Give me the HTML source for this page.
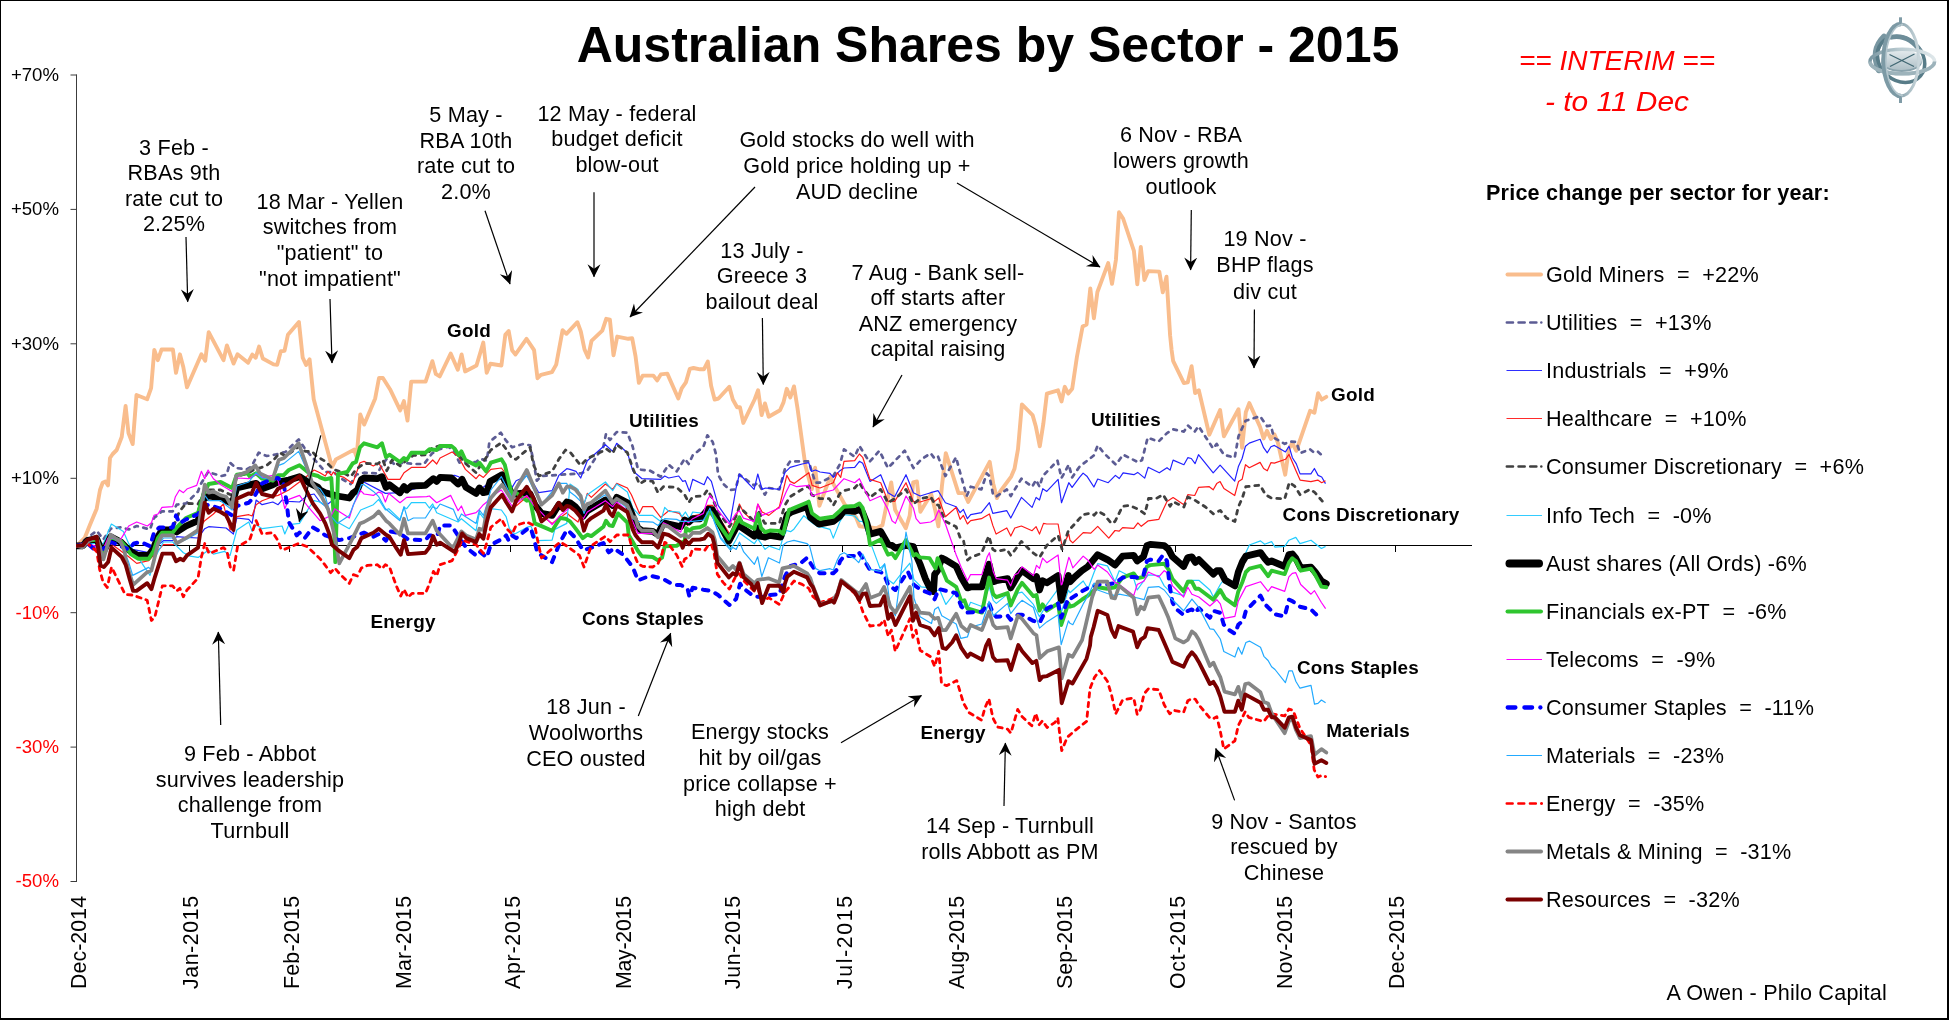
<!DOCTYPE html>
<html><head><meta charset="utf-8"><title>Australian Shares by Sector - 2015</title>
<style>html,body{margin:0;padding:0;background:#fff;}body{width:1949px;height:1020px;overflow:hidden;font-family:'Liberation Sans', sans-serif;}svg{display:block;}text{font-family:'Liberation Sans', sans-serif;}</style></head><body>
<svg width="1949" height="1020" viewBox="0 0 1949 1020">
<defs><clipPath id="cp"><rect x="76" y="150" width="1400" height="700"/></clipPath><marker id="ah" markerWidth="16" markerHeight="16" refX="12.5" refY="6.5" orient="auto" markerUnits="userSpaceOnUse"><path d="M0,0 L13,6.5 L0,13 L4.5,6.5 Z" fill="#000"/></marker></defs>
<rect x="0" y="0" width="1949" height="1020" fill="#fff"/>
<g stroke="#3c3c3c" stroke-width="1" fill="none">
<line x1="76.5" y1="74.6" x2="76.5" y2="882"/>
<line x1="70.5" y1="75.0" x2="77" y2="75.0"/>
<line x1="70.5" y1="209.4" x2="77" y2="209.4"/>
<line x1="70.5" y1="343.8" x2="77" y2="343.8"/>
<line x1="70.5" y1="478.3" x2="77" y2="478.3"/>
<line x1="70.5" y1="612.7" x2="77" y2="612.7"/>
<line x1="70.5" y1="747.1" x2="77" y2="747.1"/>
<line x1="70.5" y1="881.5" x2="77" y2="881.5"/>
</g>
<g stroke="#000" stroke-width="1" fill="none" shape-rendering="crispEdges">
<line x1="76" y1="545.5" x2="1472" y2="545.5"/>
<line x1="189.5" y1="545" x2="189.5" y2="552"/>
<line x1="289.5" y1="545" x2="289.5" y2="552"/>
<line x1="401.5" y1="545" x2="401.5" y2="552"/>
<line x1="510.5" y1="545" x2="510.5" y2="552"/>
<line x1="622.5" y1="545" x2="622.5" y2="552"/>
<line x1="730.5" y1="545" x2="730.5" y2="552"/>
<line x1="842.5" y1="545" x2="842.5" y2="552"/>
<line x1="954.5" y1="545" x2="954.5" y2="552"/>
<line x1="1062.5" y1="545" x2="1062.5" y2="552"/>
<line x1="1175.5" y1="545" x2="1175.5" y2="552"/>
<line x1="1283.5" y1="545" x2="1283.5" y2="552"/>
<line x1="1395.5" y1="545" x2="1395.5" y2="552"/>
</g>
<g fill="none" stroke-linejoin="round" stroke-linecap="butt" clip-path="url(#cp)">
<polyline stroke="#F9BD8D" stroke-width="3.9" stroke-linecap="round" points="76.7,545.8 84.7,538.0 90.0,524.7 96.7,508.7 100.0,490.0 102.7,482.7 105.4,481.4 108.0,485.4 110.0,458.0 112.7,454.0 116.7,450.0 121.7,437.0 125.6,406.0 128.5,433.1 132.7,444.1 136.5,395.0 147.2,399.2 151.1,388.2 154.3,350.0 157.8,360.2 161.6,349.5 172.9,349.5 176.0,372.9 179.9,354.3 183.3,367.0 187.0,387.3 201.4,354.3 205.2,360.7 208.7,332.2 223.5,360.2 226.9,345.4 233.6,363.6 237.5,354.3 248.1,362.7 252.3,354.6 255.7,357.7 259.1,346.6 262.8,358.5 273.5,364.4 277.2,364.8 280.8,351.2 284.5,350.9 287.9,334.8 298.9,322.0 302.7,357.7 306.1,364.9 309.6,359.4 313.7,399.2 332.0,467.0 335.9,459.4 354.0,449.6 356.6,456.9 360.3,414.5 364.2,424.6 375.2,398.4 379.0,378.0 382.9,378.0 390.0,389.2 400.2,410.4 403.9,401.1 407.5,420.6 411.2,381.6 425.6,381.6 432.4,361.2 435.8,373.9 439.7,376.5 450.7,353.6 457.8,369.7 461.6,354.4 465.1,371.4 476.5,365.5 483.3,342.6 486.7,372.8 490.4,363.8 501.4,365.5 505.3,334.9 508.7,331.0 512.1,350.2 515.5,354.4 526.5,338.8 534.1,350.2 537.5,378.2 540.9,374.8 551.9,372.2 556.2,364.6 562.6,330.2 566.4,333.8 577.4,322.2 580.8,331.5 584.5,349.4 588.1,357.5 591.5,340.9 602.3,330.7 606.2,318.8 609.9,319.7 613.5,355.3 617.2,336.6 628.3,338.8 632.2,338.3 635.5,356.1 638.9,382.9 642.7,375.6 653.4,375.6 657.1,380.4 660.8,374.4 667.3,373.6 678.3,398.5 681.7,388.4 685.9,382.4 689.8,368.9 693.5,368.0 700.0,369.3 703.9,369.3 707.8,361.5 711.1,385.8 714.6,399.5 718.5,398.5 729.3,386.8 732.8,399.5 737.1,407.3 740.0,407.3 743.3,422.9 754.6,399.5 758.1,390.3 761.6,415.1 765.0,403.4 768.7,416.7 780.0,410.2 783.5,402.4 786.8,388.8 790.3,397.5 794.0,386.4 797.5,408.3 805.3,464.9 808.3,476.6 811.8,489.2 815.1,467.8 819.4,505.8 830.3,476.6 833.6,484.4 844.4,503.9 856.1,517.5 859.6,526.3 876.6,528.3 882.4,525.3 891.2,482.4 895.1,509.7 905.8,528.3 909.7,515.6 913.2,482.4 916.9,481.4 920.4,511.7 931.2,494.1 935.1,509.7 938.4,526.3 941.9,486.3 945.8,453.1 958.5,493.1 964.3,493.1 968.2,501.9 989.7,461.9 993.2,483.4 996.9,498.0 1000.4,491.2 1011.2,476.6 1014.5,468.8 1018.0,449.2 1021.9,404.4 1032.6,415.1 1035.9,426.8 1039.8,446.3 1043.3,423.9 1046.9,393.6 1058.0,390.3 1061.5,401.5 1064.8,386.8 1068.3,393.6 1072.2,388.8 1076.9,357.0 1082.6,326.5 1086.6,324.4 1090.3,288.5 1093.9,318.2 1097.4,292.0 1108.2,263.1 1112.0,283.9 1115.9,260.0 1119.0,212.3 1123.1,218.5 1133.9,250.8 1137.3,284.3 1140.8,246.9 1144.4,280.0 1148.2,271.1 1159.3,271.6 1162.8,292.4 1166.5,276.7 1170.1,335.4 1171.6,350.0 1173.1,360.8 1183.9,383.1 1187.8,382.3 1191.6,366.2 1195.1,393.1 1198.8,390.3 1209.3,434.7 1220.1,410.0 1223.9,436.2 1238.5,409.3 1242.1,447.7 1245.8,412.3 1249.3,403.1 1260.1,427.0 1263.6,438.5 1267.0,430.8 1270.9,439.0 1274.4,434.3 1277.8,442.4 1285.2,474.7 1289.0,448.5 1292.4,443.1 1296.3,450.8 1310.1,410.8 1314.4,412.8 1318.1,393.1 1321.7,399.6 1326.3,396.9"/>
<polyline stroke="#5C5C94" stroke-width="2.7" stroke-dasharray="3.6 5.6" stroke-linecap="round" points="76.7,545.8 87.3,538.0 96.7,530.7 103.4,539.4 110.7,528.7 120.7,527.4 128.7,529.4 136.7,526.0 150.0,529.4 154.0,518.0 162.0,511.4 172.7,511.4 176.7,504.7 186.1,503.4 198.1,491.4 200.0,485.4 208.0,472.0 221.3,476.0 226.7,474.7 230.0,462.7 236.0,468.0 246.7,469.4 251.4,466.7 258.7,452.7 266.7,456.0 274.7,454.7 285.4,452.0 293.4,444.0 298.7,439.4 305.4,449.4 316.1,461.4 325.4,472.0 333.4,472.0 341.4,478.7 350.7,484.0 356.1,474.7 364.1,472.7 377.4,473.4 382.8,464.0 386.8,458.7 396.1,465.4 402.8,462.7 413.4,464.0 424.1,464.0 432.1,453.4 438.8,449.4 448.1,446.7 453.5,450.0 459.5,462.7 476.1,462.0 480.1,458.7 486.8,460.7 489.4,442.0 500.8,432.7 506.1,440.7 512.1,447.3 522.8,444.0 530.1,445.3 533.4,460.7 536.8,480.7 541.5,476.0 580.7,473.4 587.3,470.7 596.7,456.0 603.4,446.7 606.0,434.0 610.0,440.0 616.7,432.0 627.4,432.7 632.7,446.7 638.0,469.4 650.0,470.7 660.7,476.7 668.7,464.7 676.7,471.4 684.7,458.7 688.7,464.0 692.7,455.4 703.4,446.7 707.4,435.3 712.7,442.0 716.1,454.7 718.1,474.7 723.4,484.0 730.1,490.0 735.4,489.4 739.4,474.7 754.1,485.4 758.1,482.7 764.8,494.7 768.8,488.0 779.4,489.4 784.8,469.4 790.1,461.4 808.8,461.4 811.5,470.7 815.5,482.7 820.0,482.7 833.3,476.0 840.0,464.0 844.0,449.3 854.7,456.7 859.4,446.0 864.0,453.3 869.4,462.0 879.4,450.7 888.0,468.0 904.7,450.7 913.4,468.0 921.4,459.3 930.7,453.3 934.7,458.7 938.1,456.7 945.4,476.0 956.1,457.3 959.4,470.0 966.7,496.0 970.7,486.7 981.4,489.4 986.8,473.4 989.4,476.0 992.8,493.4 996.1,496.7 1006.8,489.4 1010.8,496.0 1021.4,478.7 1032.1,486.7 1036.1,480.0 1039.5,486.7 1042.8,476.0 1057.5,460.7 1061.5,478.0 1068.8,464.7 1072.1,477.4 1079.5,466.7 1093.9,455.4 1097.7,445.4 1103.9,453.1 1115.9,464.7 1123.1,454.7 1138.5,462.4 1142.0,460.1 1147.7,437.7 1158.5,441.6 1167.0,433.1 1173.1,429.3 1183.9,431.6 1187.8,425.4 1194.7,431.6 1198.5,426.2 1213.2,448.5 1216.7,443.9 1223.9,454.7 1234.7,457.7 1238.5,436.2 1245.5,420.8 1260.1,416.2 1267.0,426.2 1270.9,425.4 1273.9,437.7 1284.7,443.9 1289.3,441.6 1296.3,442.0 1300.1,453.1 1310.1,449.3 1314.4,452.8 1317.8,451.6 1324.7,457.7"/>
<polyline stroke="#2222FF" stroke-width="1.2" points="76.7,545.8 87.3,543.4 103.4,550.1 110.7,540.7 128.7,548.7 148.7,552.7 163.4,540.7 172.7,540.7 176.7,536.7 186.1,537.4 198.1,538.0 204.7,528.7 208.7,526.7 226.1,528.0 233.4,534.0 236.8,518.0 248.8,519.4 252.1,523.4 256.1,500.0 262.1,504.7 272.8,502.0 278.1,504.7 282.1,500.0 288.8,501.4 299.5,502.0 307.5,495.4 314.1,494.0 320.0,502.0 325.3,506.0 337.3,496.7 349.3,498.0 361.4,480.7 385.4,493.4 400.0,492.7 425.4,486.0 440.1,476.7 454.7,475.4 458.7,476.7 476.1,492.7 490.1,482.0 502.1,475.4 512.1,487.4 516.1,480.7 526.8,476.0 533.4,483.4 538.8,492.7 552.1,490.7 558.8,475.4 566.8,468.7 570.0,469.4 576.0,471.4 580.7,478.0 587.3,460.7 605.4,444.7 612.7,451.4 616.7,443.3 627.4,452.7 632.7,470.7 642.0,478.7 660.7,479.4 664.7,476.0 668.7,478.0 678.7,476.0 682.7,481.4 685.4,480.7 689.4,491.4 692.7,479.4 704.1,484.7 707.4,476.7 711.4,481.4 718.1,505.4 730.1,522.7 736.1,488.0 739.4,474.0 754.1,489.4 757.8,474.0 762.1,489.4 765.4,488.0 779.4,489.4 784.8,472.7 790.1,467.4 802.1,464.0 808.8,462.7 811.5,471.4 815.5,470.0 820.0,472.0 830.0,473.4 833.3,477.4 840.0,470.7 844.0,468.0 854.7,467.3 859.4,461.3 862.7,463.3 870.0,481.4 880.7,474.7 888.0,492.7 894.7,496.7 906.0,474.7 913.4,492.7 920.1,496.0 930.7,492.7 938.1,490.7 945.4,502.7 956.1,506.7 960.1,512.7 963.4,509.4 967.4,518.7 970.7,514.7 981.4,512.7 989.4,502.7 992.8,513.4 1006.8,510.7 1010.8,518.0 1021.4,497.4 1032.1,507.4 1036.1,497.4 1039.5,500.0 1042.8,488.7 1046.8,491.4 1058.1,479.4 1061.5,502.7 1068.8,482.7 1072.1,487.4 1079.5,477.4 1083.1,473.1 1086.9,476.2 1093.9,487.0 1097.7,479.0 1108.2,482.7 1115.4,475.4 1119.3,478.5 1123.1,472.8 1133.9,474.7 1137.7,472.4 1144.7,478.1 1148.2,467.3 1159.3,472.8 1167.0,467.7 1170.1,470.1 1173.1,460.1 1183.9,464.7 1187.8,457.7 1191.3,458.5 1195.1,463.6 1198.5,454.7 1213.2,472.8 1220.1,465.1 1234.7,481.1 1238.5,466.2 1242.1,458.5 1245.5,446.2 1249.3,443.1 1260.1,439.3 1263.6,447.7 1267.3,452.8 1270.9,446.7 1274.4,445.4 1285.5,451.9 1289.0,446.2 1292.4,457.7 1296.3,463.9 1300.1,473.9 1310.9,473.9 1314.4,468.5 1318.1,475.4 1321.7,477.0 1325.5,483.6"/>
<polyline stroke="#FF1A1A" stroke-width="1.2" points="76.7,545.8 87.3,543.4 103.4,552.7 110.7,543.4 128.7,556.7 136.7,563.4 148.7,560.7 163.4,544.7 172.7,544.7 198.1,530.0 204.7,520.7 213.4,514.0 223.4,504.0 230.1,530.0 236.8,516.7 248.8,514.7 252.1,516.0 256.1,504.7 262.1,500.7 272.8,496.7 278.1,495.4 288.8,490.0 304.8,478.0 314.1,470.0 320.0,472.7 325.3,476.0 328.0,471.4 331.3,475.4 333.3,472.0 337.3,475.4 344.0,477.4 352.7,483.4 360.0,462.7 364.0,461.4 373.4,466.0 378.7,462.7 382.0,468.7 388.0,479.4 400.0,479.4 404.0,472.7 411.4,467.4 425.4,467.4 432.7,460.0 436.7,464.0 440.1,458.0 452.1,452.0 458.7,456.7 462.1,463.4 465.4,469.4 476.1,478.7 479.4,474.7 483.4,477.4 490.8,469.4 501.4,468.0 506.1,474.0 512.1,494.0 516.1,506.0 526.8,496.7 541.5,515.4 552.1,523.4 566.8,512.7 570.0,516.1 578.0,522.1 583.3,506.7 587.3,493.4 591.3,497.4 605.4,484.0 612.7,489.4 616.7,483.4 627.4,488.0 631.4,494.7 639.4,513.4 642.7,506.7 652.7,506.7 660.7,517.4 668.7,510.7 679.4,513.4 687.4,525.4 692.7,516.1 704.1,513.4 707.4,505.4 712.7,505.4 718.1,516.1 730.1,534.7 736.1,517.4 739.4,504.0 743.4,512.0 754.1,522.1 757.8,504.0 762.1,512.0 768.8,515.4 779.4,506.7 786.8,475.4 790.1,481.4 794.1,483.4 808.8,472.7 812.1,485.4 820.0,488.0 833.3,482.7 837.3,472.7 840.7,477.4 844.0,461.3 854.7,460.7 859.4,454.0 862.7,457.3 870.0,479.4 880.7,482.7 888.0,501.4 894.7,501.4 906.0,482.7 913.4,501.4 920.1,502.0 930.7,498.7 934.7,501.4 938.7,498.0 945.4,516.7 956.1,507.4 960.1,519.4 963.4,515.4 967.4,524.0 970.7,520.7 981.4,518.7 989.4,514.0 992.8,525.4 996.1,534.1 1006.8,528.0 1010.8,536.1 1014.8,528.0 1021.4,526.0 1032.1,530.7 1036.1,526.7 1039.5,534.1 1043.5,523.4 1046.8,524.0 1058.1,524.0 1062.1,546.7 1068.8,534.1 1070.0,540.2 1072.8,542.9 1083.2,532.6 1090.8,533.2 1097.7,526.3 1108.8,538.1 1115.0,530.5 1119.2,531.2 1122.6,527.7 1133.7,528.4 1137.9,522.9 1141.3,526.3 1148.3,520.8 1158.7,519.4 1167.0,501.4 1173.1,497.5 1183.9,504.7 1187.8,494.7 1194.7,495.5 1198.5,487.4 1209.3,486.7 1213.2,489.8 1216.7,483.6 1220.1,481.6 1223.9,488.5 1234.7,495.5 1238.5,481.6 1242.1,479.3 1245.5,464.7 1249.3,467.7 1260.1,462.4 1263.6,468.5 1267.3,470.8 1270.9,462.7 1274.4,463.1 1285.5,459.3 1289.0,454.4 1296.3,471.6 1300.1,480.1 1310.9,481.6 1317.8,480.1 1321.7,482.7 1325.5,480.8"/>
<polyline stroke="#404040" stroke-width="2.8" stroke-dasharray="3.8 5.7" stroke-linecap="round" points="76.7,545.8 87.3,542.0 96.7,540.7 103.4,551.4 110.7,538.0 120.7,542.0 128.7,548.7 138.0,554.1 148.7,554.1 158.0,535.4 163.4,528.7 172.7,528.7 179.4,511.4 186.1,503.4 198.1,504.0 203.4,494.0 208.7,490.0 220.7,490.0 232.1,495.4 236.8,476.7 248.8,472.7 255.4,468.7 260.0,468.0 266.7,465.4 274.7,458.7 280.0,452.7 285.4,456.0 293.4,450.7 298.7,446.7 305.4,451.4 312.1,451.4 316.1,456.0 325.4,461.4 333.4,469.4 341.4,472.0 350.7,476.7 356.1,469.4 364.1,463.4 377.4,464.0 382.8,460.0 386.8,470.7 392.1,460.0 400.1,466.0 408.1,458.7 413.4,455.4 426.8,454.7 432.1,448.0 438.8,446.0 448.1,445.4 453.5,446.7 459.5,456.0 465.4,463.4 476.1,472.7 480.1,466.0 486.8,456.7 490.8,450.0 501.4,442.7 506.8,450.0 512.1,458.7 516.1,459.3 522.8,453.3 530.1,447.3 533.4,464.7 538.8,476.0 552.1,471.4 558.8,459.3 565.5,450.0 570.0,452.0 580.7,465.4 587.3,458.7 603.4,450.7 606.0,448.7 612.7,453.4 616.7,444.7 627.4,452.7 632.7,468.0 639.4,484.0 644.7,480.7 652.7,481.4 658.0,492.7 663.4,486.7 676.7,487.4 684.7,494.7 688.7,502.7 692.7,496.7 703.4,496.0 707.4,490.0 712.7,498.7 718.1,512.0 729.4,526.7 736.1,516.1 739.4,506.7 754.1,521.4 758.1,510.7 764.8,523.4 779.4,523.4 784.8,505.4 790.1,496.7 802.1,489.4 808.8,486.0 811.5,494.7 820.0,498.7 829.3,498.7 833.3,505.4 840.0,493.4 844.0,490.7 854.7,488.0 859.4,482.7 862.7,488.0 870.0,497.4 880.7,489.4 888.0,502.7 894.7,498.7 906.0,489.4 913.4,504.0 920.1,498.7 930.7,496.7 934.7,504.0 938.7,505.4 945.4,521.4 956.1,526.7 960.1,537.4 963.4,540.1 967.4,560.1 970.7,557.4 981.4,553.4 988.8,536.1 992.8,549.4 996.1,551.4 1006.8,549.4 1010.8,555.4 1021.4,541.4 1032.1,552.1 1039.5,557.4 1046.8,545.4 1058.1,535.4 1062.1,549.4 1068.8,529.4 1070.0,529.1 1083.2,514.5 1090.8,513.2 1094.2,515.2 1097.7,511.1 1103.9,514.5 1111.6,523.6 1115.0,521.5 1122.6,506.2 1129.6,505.5 1137.9,509.0 1144.8,513.9 1147.6,502.8 1148.5,498.5 1156.2,498.5 1163.1,494.7 1170.1,506.2 1173.1,501.6 1183.9,507.0 1187.8,497.0 1194.7,500.1 1205.5,507.0 1213.4,513.9 1220.3,510.4 1226.5,518.0 1234.9,521.5 1238.3,506.9 1242.4,497.8 1245.8,486.7 1260.1,485.1 1265.5,494.7 1270.9,497.8 1284.7,499.0 1289.3,482.4 1294.7,486.2 1300.1,494.7 1310.1,489.3 1314.7,492.4 1324.7,503.9"/>
<polyline stroke="#22CCFF" stroke-width="1.2" points="76.7,545.8 87.3,543.4 103.4,543.4 111.4,524.0 123.4,531.4 128.7,543.4 134.0,551.4 150.0,575.4 155.4,556.7 163.4,542.0 172.7,542.0 176.7,546.1 183.4,552.7 190.1,556.1 198.1,557.4 208.7,550.1 213.4,554.1 224.7,551.4 230.1,555.4 236.8,530.0 248.8,522.0 252.1,531.4 256.1,524.7 262.1,528.7 282.1,526.0 284.8,534.0 288.8,524.7 299.5,523.4 310.1,506.0 314.1,500.7 320.0,502.0 325.3,506.0 331.3,518.0 337.3,522.0 349.3,528.7 353.4,522.0 360.7,510.0 373.4,504.7 378.7,499.4 385.4,510.0 388.7,508.7 400.0,519.4 404.0,507.4 406.7,508.7 411.4,502.7 425.4,502.7 429.4,508.0 432.7,504.0 436.7,512.7 458.1,522.0 461.4,518.7 476.1,530.7 479.4,512.7 483.4,518.0 486.8,510.0 490.8,508.7 501.4,510.0 506.1,516.7 509.4,528.7 514.8,534.1 526.8,527.4 530.8,526.1 537.4,540.7 552.1,540.1 554.8,529.4 566.8,523.4 570.0,484.0 578.0,489.4 583.3,505.4 587.3,494.7 605.4,482.0 612.7,490.7 616.7,484.0 627.4,492.0 632.7,508.0 639.4,515.4 652.7,515.4 660.7,521.4 664.7,507.4 668.7,511.4 679.4,512.0 682.1,516.7 685.4,512.0 689.4,518.7 692.7,512.0 703.4,513.4 707.4,506.7 709.9,508.2 714.8,522.2 720.6,537.1 730.5,548.2 732.9,545.3 736.2,539.5 739.5,532.9 754.4,543.7 757.7,538.7 765.1,549.4 769.2,546.1 779.5,549.8 782.4,539.5 786.5,530.5 790.6,531.7 793.9,529.2 803.8,515.7 810.4,521.4 818.6,527.2 820.0,526.7 830.0,529.4 833.3,538.1 840.0,521.4 844.0,514.7 854.7,516.0 859.4,521.4 862.7,521.4 870.0,541.4 880.0,568.4 884.6,564.3 888.2,579.7 893.4,583.8 902.1,572.5 909.9,563.2 914.0,579.7 921.2,586.9 929.4,587.9 933.5,591.0 939.7,590.0 945.9,604.4 956.2,591.0 961.3,603.4 967.5,609.6 970.6,602.3 981.9,606.5 989.1,586.9 993.2,600.3 996.3,603.4 1007.6,594.1 1010.7,606.5 1017.9,593.1 1022.0,592.1 1033.4,604.4 1039.5,616.8 1046.8,604.4 1058.1,589.0 1061.2,612.6 1068.4,590.0 1070.0,592.8 1083.2,581.0 1088.0,588.7 1094.2,572.0 1097.7,563.7 1107.4,565.8 1115.0,581.7 1119.2,570.7 1133.7,578.3 1137.2,590.0 1144.1,580.3 1148.3,574.8 1158.7,575.5 1164.2,585.9 1169.7,591.4 1183.6,595.6 1187.8,580.3 1198.8,580.3 1209.9,590.0 1213.4,597.0 1220.3,584.5 1225.2,577.6 1234.9,583.1 1238.3,569.3 1245.9,552.6 1249.4,545.0 1260.5,540.9 1264.6,544.3 1271.6,541.6 1275.0,547.1 1284.7,546.4 1288.9,540.2 1295.8,537.4 1300.0,543.6 1311.0,540.2 1321.4,548.5 1325.6,546.4"/>
<polyline stroke="#000000" stroke-width="6.8" stroke-linecap="round" points="76.7,545.8 82.7,545.8 87.3,540.7 96.7,538.7 102.7,553.4 110.7,536.7 120.7,542.0 127.4,548.7 130.7,551.4 138.0,555.4 148.7,555.4 153.4,548.7 158.0,536.7 162.0,530.0 172.7,530.0 176.7,532.0 186.1,526.0 198.1,520.7 203.4,499.4 208.7,496.0 220.7,498.0 232.1,503.4 236.8,488.0 247.4,485.4 256.1,483.4 262.1,488.7 272.8,484.7 278.1,482.0 288.8,480.0 299.5,476.7 310.1,483.4 318.1,487.4 320.0,490.0 325.3,492.7 337.3,496.0 349.3,498.0 353.4,492.7 357.4,490.0 361.4,479.4 364.0,478.0 377.4,478.7 382.0,476.7 386.0,487.4 389.4,484.7 400.0,492.7 404.0,486.7 406.7,490.0 411.4,486.0 425.4,485.4 433.4,478.7 436.7,481.4 440.1,477.4 451.4,478.0 458.1,484.0 462.1,479.4 466.1,487.4 476.1,493.4 479.4,488.0 483.4,492.7 486.8,492.0 490.1,481.4 502.1,474.7 506.1,483.4 512.1,494.0 516.1,494.0 526.8,492.7 530.1,494.0 534.8,504.7 541.5,513.4 552.1,515.4 558.8,504.7 562.8,507.4 566.8,502.0 570.0,502.7 575.3,506.7 583.3,516.1 587.3,510.7 605.4,500.0 612.7,505.4 616.7,497.4 627.4,502.7 632.7,516.1 638.0,528.1 642.0,530.7 652.7,531.4 658.0,534.7 663.4,522.7 668.7,524.1 680.7,526.7 684.7,520.1 688.7,522.1 692.7,518.7 700.0,518.9 708.2,509.1 712.4,509.9 728.8,541.2 739.5,521.4 741.2,527.2 754.4,536.2 757.7,528.0 759.3,536.2 765.1,537.1 770.0,535.4 780.7,537.1 787.3,514.8 790.6,512.4 807.1,506.6 810.4,517.3 818.6,523.9 820.0,524.0 833.3,521.4 840.0,516.0 844.0,510.7 854.7,511.4 859.4,509.4 862.7,512.7 866.7,522.7 870.0,534.1 880.7,531.4 888.0,544.1 892.0,545.4 895.4,548.1 906.0,545.4 913.4,546.7 916.0,554.7 920.0,564.0 925.4,578.7 930.4,589.0 933.5,591.5 934.6,574.6 937.6,570.4 941.8,558.1 945.9,560.1 956.2,566.3 961.3,577.6 967.5,587.9 970.6,586.9 981.9,586.9 989.1,564.3 993.2,581.8 996.3,580.7 1007.6,578.7 1010.7,587.9 1017.9,575.6 1022.0,570.4 1033.4,578.7 1036.5,576.6 1039.5,590.0 1042.6,580.7 1046.8,582.8 1058.1,575.6 1061.2,600.3 1068.4,575.6 1070.0,581.7 1074.2,577.6 1081.8,570.7 1088.0,566.5 1097.7,554.7 1107.4,559.6 1115.0,565.1 1122.6,556.1 1133.7,555.4 1137.2,561.0 1143.4,556.8 1146.9,545.7 1150.3,544.3 1164.2,545.7 1168.4,549.2 1172.5,556.8 1183.6,566.5 1187.8,557.5 1191.9,556.8 1195.4,562.3 1198.8,559.6 1213.4,574.1 1216.8,570.7 1220.3,570.7 1225.2,580.3 1234.9,585.9 1238.3,572.0 1242.5,561.6 1245.9,556.1 1260.5,552.6 1264.6,558.2 1268.1,562.3 1271.6,561.0 1284.7,566.5 1288.9,554.7 1292.3,554.0 1295.8,558.2 1300.7,567.9 1311.0,567.2 1315.2,572.0 1321.4,581.0 1326.3,583.8"/>
<polyline stroke="#2FC52F" stroke-width="3.9" stroke-linecap="round" points="76.7,545.8 82.7,545.4 87.3,540.7 96.7,539.6 102.7,552.7 110.7,537.4 120.7,540.7 127.4,548.7 130.7,554.1 138.0,558.7 148.7,558.7 153.4,551.4 158.0,538.0 162.0,532.7 172.7,532.7 176.7,527.4 186.1,518.0 198.1,512.7 203.4,494.0 208.7,484.0 220.7,482.0 232.1,488.0 236.8,474.7 247.4,473.3 250.1,476.7 256.1,473.3 262.1,478.7 272.8,480.7 278.1,475.3 283.4,475.3 288.8,470.0 299.5,465.3 310.1,474.0 318.1,476.0 320.0,477.4 325.3,479.4 331.3,478.0 333.3,510.0 335.3,562.1 338.0,474.0 347.3,472.0 352.7,463.4 356.0,462.0 360.0,447.3 364.0,443.3 377.4,447.3 382.0,443.3 386.0,457.3 389.4,454.7 400.0,462.0 404.0,458.0 406.7,460.0 411.4,452.7 425.4,452.7 429.4,449.3 436.7,450.0 440.1,446.0 451.4,446.0 454.7,448.7 458.7,455.3 461.4,451.3 465.4,460.0 476.1,465.4 479.4,462.7 486.1,471.4 490.8,462.7 501.4,459.3 504.8,464.7 512.1,495.4 516.1,492.7 526.8,500.7 530.1,499.4 534.8,523.4 541.5,526.1 552.1,530.7 560.1,518.0 565.5,518.7 570.0,521.4 575.3,528.1 582.7,538.1 587.3,534.7 591.3,536.1 603.4,526.7 606.0,520.7 609.4,525.4 612.7,526.1 618.0,513.4 627.4,522.7 628.7,535.0 632.7,541.7 638.0,551.0 642.0,556.3 652.7,557.0 658.0,560.3 662.0,557.7 664.7,546.3 676.7,545.7 684.7,541.0 686.1,528.1 689.4,530.7 692.7,528.1 700.0,527.2 704.9,524.7 708.2,513.2 710.7,512.4 728.8,538.7 739.5,517.3 741.2,522.2 754.4,528.8 757.7,514.0 761.0,528.0 765.1,532.1 770.0,530.5 779.1,530.9 783.2,533.8 789.0,509.9 791.4,509.1 807.1,502.5 808.7,501.6 812.0,513.2 818.6,518.1 820.0,518.7 833.3,516.7 840.0,510.7 844.0,506.7 854.7,506.0 859.4,503.4 862.7,508.0 866.7,522.7 870.0,544.7 880.7,539.4 888.0,554.7 892.0,553.4 895.4,558.1 906.0,540.1 913.4,555.4 916.1,554.1 920.1,557.4 929.4,558.1 935.6,568.4 937.6,558.1 941.8,568.4 946.9,580.7 956.2,586.9 961.3,601.3 964.4,600.3 967.5,608.5 981.9,612.6 989.1,577.6 993.2,594.1 996.3,597.2 1007.6,593.1 1010.7,605.4 1017.9,589.0 1022.0,582.8 1033.4,596.2 1036.5,595.1 1039.5,610.6 1042.6,604.4 1046.8,610.6 1058.1,603.4 1061.2,625.0 1068.4,603.4 1070.0,606.7 1074.2,605.3 1081.8,599.7 1088.0,595.6 1097.7,587.3 1107.4,588.7 1115.0,587.3 1122.6,577.6 1133.7,573.4 1137.2,578.3 1143.4,576.9 1146.9,566.5 1150.3,565.1 1164.2,563.7 1168.4,569.3 1172.5,579.0 1183.6,591.4 1187.8,581.7 1191.9,581.7 1195.4,588.7 1198.8,588.7 1213.4,599.7 1220.3,590.0 1225.2,598.4 1234.9,605.3 1238.3,591.4 1242.5,581.7 1245.9,572.0 1249.4,568.6 1260.5,565.8 1268.1,576.2 1271.6,570.7 1284.7,574.1 1288.9,563.0 1292.3,558.2 1295.8,561.0 1300.7,570.7 1311.0,568.6 1315.2,574.8 1321.4,586.6 1326.3,587.3"/>
<polyline stroke="#FF00FF" stroke-width="1.2" points="76.7,545.8 87.3,543.4 103.4,548.7 108.0,538.0 120.7,539.4 128.7,526.0 136.7,522.0 147.4,526.0 151.4,522.7 154.0,515.4 158.0,514.0 162.0,507.4 172.7,506.7 175.4,496.7 179.4,490.0 183.4,492.7 187.4,488.7 196.7,485.4 201.4,471.3 204.7,478.7 208.1,470.0 213.4,478.7 220.7,484.7 232.1,491.4 236.8,478.0 248.8,478.7 256.1,474.0 262.1,477.3 272.8,475.3 278.1,480.7 284.8,508.7 288.8,499.4 299.5,495.4 307.5,506.0 320.0,520.7 331.3,515.4 334.7,508.7 349.3,518.0 353.4,504.7 360.7,490.7 364.0,494.0 373.4,495.4 378.7,492.0 382.0,493.4 385.4,502.0 388.7,493.4 400.0,502.7 406.7,497.4 426.7,496.7 429.4,496.0 436.7,502.7 450.7,495.4 458.1,510.7 461.4,506.0 465.4,515.4 476.1,512.7 479.4,509.4 483.4,504.7 486.8,502.0 490.8,496.7 501.4,490.0 512.1,506.0 526.8,495.4 533.4,504.7 541.5,512.7 552.1,524.7 560.1,515.4 566.8,510.0 570.0,506.7 583.3,518.7 587.3,512.0 605.4,500.7 612.7,506.7 616.7,502.0 627.4,510.7 632.7,521.4 638.0,533.4 650.0,533.4 658.0,534.7 663.4,522.7 668.7,525.4 680.7,532.1 684.7,520.1 688.7,522.7 692.7,518.7 703.4,513.4 707.4,500.0 710.1,495.4 712.7,498.7 718.1,510.7 729.4,524.1 736.1,513.4 739.4,510.7 743.4,518.1 754.1,521.4 757.8,504.0 762.1,515.4 770.1,512.0 779.4,508.0 786.1,492.0 790.1,484.0 796.8,486.7 808.8,485.4 812.1,496.0 820.0,493.4 833.3,490.0 844.0,478.7 854.7,482.7 859.4,478.7 870.0,500.7 880.7,496.0 888.0,509.4 892.0,520.7 895.4,523.4 906.0,496.0 913.4,508.0 916.1,518.7 920.1,523.4 930.7,522.0 934.7,519.4 938.7,510.0 945.4,524.0 956.2,555.0 961.3,567.4 967.5,580.7 970.6,574.6 981.9,574.6 987.1,557.1 989.4,552.7 993.2,571.5 996.3,578.7 1007.6,580.2 1010.7,585.9 1014.8,574.6 1017.9,573.5 1022.0,566.8 1033.4,575.6 1036.5,565.3 1039.5,568.4 1042.6,558.1 1046.8,562.7 1058.1,555.0 1061.2,584.9 1062.1,584.0 1068.8,557.4 1070.0,559.6 1072.8,567.9 1083.2,556.1 1088.0,560.3 1094.2,569.3 1097.7,565.1 1107.4,572.0 1115.0,582.4 1119.2,584.5 1133.7,595.6 1137.2,584.5 1144.1,581.0 1148.3,572.0 1158.7,576.9 1164.2,570.7 1168.4,573.4 1172.5,585.9 1183.6,597.0 1187.8,587.3 1191.9,594.2 1198.8,597.0 1209.9,606.0 1216.8,599.7 1220.3,603.9 1224.5,618.4 1234.9,616.4 1238.3,601.1 1245.9,586.6 1260.5,581.7 1268.1,591.4 1271.6,586.6 1284.7,591.4 1288.9,576.9 1292.3,573.4 1295.8,572.7 1300.7,584.5 1311.0,594.2 1314.5,590.7 1321.4,602.5 1325.6,608.7"/>
<polyline stroke="#0000FF" stroke-width="4.0" stroke-dasharray="5.5 7.6" stroke-linecap="round" points="76.7,545.8 87.3,543.4 96.7,551.4 103.4,548.7 110.7,542.0 120.7,546.1 128.7,549.4 134.0,543.4 140.7,542.0 150.0,546.1 154.0,532.7 159.4,527.4 172.7,527.4 176.1,515.4 179.4,523.4 186.1,519.4 198.1,514.0 203.4,506.0 208.7,504.7 220.7,508.7 232.1,515.4 236.8,506.0 248.8,502.7 254.1,496.7 262.1,483.4 272.8,478.7 278.1,478.0 283.4,482.0 286.8,503.4 288.8,522.0 296.8,535.4 299.5,532.7 304.8,538.0 312.8,527.4 320.0,531.4 325.3,535.4 333.3,538.1 339.3,540.1 349.3,538.1 360.0,534.1 364.0,532.7 373.4,536.7 378.7,534.1 386.0,540.7 390.7,531.4 400.0,533.4 408.0,539.4 425.4,540.1 429.4,535.4 437.4,535.4 440.1,525.4 451.4,525.4 458.7,536.7 466.1,547.4 476.1,555.4 479.4,551.4 486.8,557.4 490.8,544.7 501.4,539.4 506.1,535.4 508.8,540.7 512.1,535.4 516.1,538.1 526.8,529.4 530.8,528.1 534.8,542.1 537.4,552.7 541.5,555.4 552.1,562.1 560.1,542.1 566.8,530.1 570.0,532.3 575.3,537.7 579.3,544.3 583.3,550.3 591.3,547.7 603.4,543.0 608.7,552.3 614.0,548.3 623.4,555.0 632.7,567.0 638.0,580.4 650.0,575.7 662.0,578.4 674.1,585.0 680.7,585.0 687.4,588.4 689.4,596.4 692.7,587.7 703.4,589.7 711.4,591.0 718.1,595.0 729.4,605.0 736.1,599.0 740.1,583.7 743.4,588.4 754.1,596.4 762.1,597.0 768.8,595.0 779.4,594.4 784.8,576.6 790.6,565.9 800.5,563.4 807.1,557.7 811.2,564.3 815.3,570.0 820.0,573.3 833.3,573.3 837.3,569.3 840.0,561.3 844.0,556.1 854.7,556.1 858.7,552.1 864.0,560.0 870.0,570.0 880.7,572.0 884.1,574.6 888.2,584.9 895.4,590.0 907.8,571.5 914.0,584.9 921.2,590.0 931.5,594.1 934.6,599.3 938.7,589.0 949.0,591.5 956.2,593.1 961.3,606.5 967.5,612.6 981.9,611.6 989.1,603.4 993.2,613.7 996.3,616.8 1007.6,615.7 1010.7,619.8 1017.9,614.7 1022.0,614.7 1033.4,620.9 1039.5,622.9 1046.8,608.5 1058.1,603.4 1061.2,617.8 1068.4,598.2 1070.0,599.1 1081.8,591.4 1088.0,588.0 1097.7,584.5 1107.4,584.5 1115.0,583.1 1122.6,577.6 1133.7,576.9 1137.2,577.6 1143.4,575.5 1146.9,561.0 1150.3,559.6 1158.7,561.0 1162.8,555.4 1167.0,561.0 1169.7,585.9 1172.5,602.5 1176.7,609.4 1183.6,615.0 1187.8,610.8 1191.9,609.4 1195.4,612.9 1198.8,608.1 1209.9,617.8 1213.4,610.8 1220.3,612.9 1223.8,624.7 1229.3,630.2 1234.9,633.7 1238.3,624.7 1243.2,620.5 1245.9,610.8 1260.5,595.6 1264.6,603.9 1275.0,614.3 1284.7,616.4 1288.9,599.7 1292.3,601.1 1300.0,606.7 1311.0,609.4 1315.2,613.6 1321.4,619.1"/>
<polyline stroke="#22AAFF" stroke-width="1.2" points="76.7,545.8 87.3,542.0 96.7,538.0 103.4,556.7 110.7,536.7 120.7,543.4 128.7,562.1 132.7,575.4 148.7,567.4 151.4,570.1 158.0,546.1 163.4,538.0 172.7,538.0 176.7,543.4 186.1,539.4 198.1,532.7 204.7,495.4 208.7,500.7 220.7,500.7 232.1,510.0 236.8,486.0 248.8,482.0 256.1,472.7 262.1,478.0 272.8,479.3 278.7,465.4 284.0,463.4 298.7,451.4 305.4,466.7 312.4,484.4 320.0,488.7 325.3,496.7 331.3,516.7 337.3,523.4 349.3,515.4 361.4,484.7 364.0,484.7 373.4,491.4 378.7,496.7 385.4,508.7 400.0,520.7 404.0,506.7 408.0,520.7 413.4,518.0 425.4,518.0 432.7,506.7 436.7,508.7 440.1,504.0 453.4,509.4 458.1,520.7 461.4,514.0 476.1,523.4 479.4,510.0 483.4,515.4 486.8,504.7 490.8,490.0 501.4,476.7 506.1,486.0 512.1,498.0 516.1,488.7 526.8,475.4 533.4,488.7 541.5,504.7 558.8,483.4 566.8,483.4 570.0,492.0 575.3,496.0 580.7,501.4 584.0,513.4 587.3,505.4 605.4,494.7 612.7,504.0 616.7,500.0 627.4,508.0 632.7,518.7 638.0,521.4 652.7,522.1 658.0,525.4 664.7,518.7 676.7,519.4 680.7,521.4 692.7,521.4 703.4,520.1 707.4,513.4 709.9,508.2 714.8,523.1 720.6,538.7 730.5,550.2 732.9,547.4 736.2,549.4 739.5,542.0 743.7,551.9 754.4,564.3 757.7,556.8 761.8,576.6 768.4,557.7 779.5,563.0 783.2,544.9 787.3,542.0 793.9,540.4 807.1,543.7 809.6,546.1 815.3,568.4 820.0,570.7 830.0,568.7 833.3,570.0 837.3,560.0 840.0,554.7 844.0,552.7 854.7,558.7 858.7,562.7 862.7,554.1 870.0,569.4 880.7,571.4 884.6,563.7 890.3,606.5 895.4,615.7 903.2,555.0 906.0,532.0 911.9,561.2 914.0,598.2 920.1,616.8 931.5,623.5 934.6,609.6 938.2,607.0 941.8,615.7 956.2,624.0 960.8,638.4 967.5,636.8 970.6,627.1 981.9,624.0 989.1,601.3 993.2,615.7 1007.6,603.4 1010.7,613.7 1017.9,604.4 1022.0,600.3 1033.4,607.5 1039.5,628.1 1046.8,621.9 1058.1,614.7 1061.2,644.6 1068.4,620.9 1070.0,623.3 1072.8,624.7 1083.2,603.9 1088.0,595.6 1094.2,583.1 1097.7,590.0 1107.4,593.5 1115.0,595.6 1119.2,594.2 1133.7,597.0 1144.1,599.7 1148.3,587.3 1158.7,586.6 1164.2,590.0 1169.7,597.0 1183.6,610.8 1191.9,599.1 1198.8,607.4 1209.9,628.8 1213.7,629.4 1220.3,639.0 1223.8,651.5 1234.9,657.0 1238.3,647.3 1241.8,654.2 1245.9,642.5 1249.4,641.1 1260.5,647.3 1263.9,656.3 1268.1,660.5 1271.6,666.7 1275.0,669.5 1285.4,682.6 1288.9,670.9 1292.3,670.9 1295.8,681.3 1300.0,688.2 1311.0,685.4 1314.5,704.1 1318.0,703.4 1321.4,700.0 1325.6,702.7"/>
<polyline stroke="#FF0000" stroke-width="2.8" stroke-dasharray="4.4 5.2" stroke-linecap="round" points="76.7,545.8 87.3,543.4 96.7,551.4 99.7,569.7 103.1,582.4 107.3,587.5 111.5,567.1 125.1,594.3 132.7,595.1 147.2,600.2 151.4,620.5 154.8,617.2 162.4,585.8 172.6,585.8 176.8,590.9 179.9,588.3 183.3,596.8 187.0,590.0 198.0,578.2 201.4,557.0 204.8,543.4 209.1,553.6 223.5,547.6 226.9,551.0 230.3,567.1 233.6,570.5 237.5,546.8 248.1,540.8 250.1,538.7 256.1,520.7 262.1,534.0 272.8,532.7 278.1,540.7 281.1,549.3 284.5,549.3 298.9,543.4 307.4,546.8 320.0,558.7 325.3,565.4 330.7,572.7 334.7,568.0 339.3,573.4 349.3,583.4 353.4,574.7 357.4,576.0 361.4,568.0 367.4,565.4 377.4,564.7 382.0,568.7 385.4,564.7 389.4,566.7 392.7,576.0 396.7,586.7 400.7,596.0 404.0,589.4 408.0,597.4 412.0,593.4 425.4,593.4 429.4,584.0 433.4,571.4 436.7,576.0 440.1,564.7 452.1,560.7 458.7,548.0 462.1,540.0 476.1,544.7 483.4,553.4 486.8,542.7 490.8,527.3 501.4,518.7 506.1,528.0 512.1,534.0 516.1,525.3 526.8,522.0 534.8,526.0 538.1,542.7 541.5,558.0 552.1,548.7 560.1,542.0 566.8,546.0 579.5,555.4 584.0,567.0 591.3,545.7 605.4,536.3 610.0,541.7 616.7,535.0 628.7,535.0 632.7,551.0 638.0,563.7 642.7,566.4 652.7,567.0 658.0,563.7 662.0,553.7 664.7,542.3 668.7,544.3 676.7,555.0 682.1,566.4 684.7,559.0 690.1,556.3 692.7,549.0 700.0,549.4 704.9,550.2 708.2,545.3 711.5,544.5 714.0,552.7 717.3,574.1 723.1,582.4 729.4,589.0 736.1,575.7 739.4,573.7 743.4,580.4 754.1,591.0 757.8,588.4 762.1,601.7 768.8,597.7 779.4,604.4 784.8,592.4 794.1,581.0 802.1,584.4 808.8,588.4 812.8,596.4 820.0,602.7 832.0,598.7 837.3,593.4 841.3,581.3 854.7,593.4 859.4,601.4 862.7,611.4 870.0,626.0 880.0,625.0 884.1,619.8 888.2,636.3 891.3,630.1 895.2,651.3 909.9,618.8 912.9,637.3 916.0,630.1 920.1,650.2 930.8,656.9 934.7,666.5 938.7,651.3 941.5,683.5 946.6,685.7 953.4,682.3 956.8,680.6 963.5,703.2 969.2,712.8 981.6,720.1 985.0,707.7 988.9,698.7 992.9,717.9 997.4,726.9 1007.6,729.2 1010.9,733.1 1017.7,709.4 1022.2,716.8 1031.8,725.8 1035.8,713.4 1039.2,724.7 1042.5,720.7 1047.1,727.5 1055.0,722.4 1057.8,717.9 1061.7,750.6 1067.4,737.1 1075.3,730.3 1086.6,721.3 1090.0,688.5 1094.5,677.3 1099.6,670.5 1107.4,681.3 1111.6,695.1 1115.7,713.8 1122.6,700.0 1133.7,697.9 1137.2,714.5 1140.7,709.0 1144.1,693.7 1148.3,688.9 1158.7,689.6 1164.2,704.8 1169.7,713.8 1173.9,710.3 1183.6,712.4 1187.8,700.7 1191.9,698.6 1195.4,699.3 1198.8,704.8 1209.9,718.0 1213.4,718.7 1216.8,716.6 1220.3,731.1 1223.8,749.1 1234.9,740.8 1238.3,725.6 1245.2,711.7 1248.7,717.3 1260.5,720.7 1263.9,721.4 1268.1,715.9 1271.6,713.8 1284.7,715.9 1288.9,709.0 1293.0,710.3 1300.0,728.4 1311.0,745.0 1314.2,769.9 1318.0,777.1 1321.4,775.5 1325.6,776.6"/>
<polyline stroke="#858585" stroke-width="3.7" stroke-linecap="round" points="76.7,545.8 82.7,547.4 87.3,542.0 96.7,536.7 103.4,559.4 110.7,534.7 120.7,542.0 124.7,551.4 125.6,558.7 129.4,573.1 133.1,584.9 147.2,572.2 151.4,570.5 154.8,557.0 158.0,543.4 162.0,535.4 172.7,535.4 176.7,543.4 186.1,538.0 198.1,530.0 204.7,484.7 208.7,492.7 213.4,491.4 220.7,495.4 226.1,496.7 232.1,507.4 236.0,476.0 246.7,472.0 255.4,465.4 260.0,473.4 272.7,479.4 278.7,460.0 284.0,458.0 298.7,443.4 305.4,462.7 312.1,482.7 321.4,496.1 328.1,509.4 332.1,525.4 334.7,536.1 339.3,563.4 349.3,544.7 352.7,538.1 360.0,523.4 364.0,522.0 373.4,516.7 378.7,511.4 386.0,520.7 389.4,523.4 400.0,534.7 404.0,518.7 408.0,533.4 425.4,533.4 432.7,520.7 436.7,530.7 452.1,547.4 454.7,544.7 461.4,531.4 466.1,535.4 476.1,539.4 479.4,528.7 483.4,530.1 486.8,510.0 490.8,498.0 502.1,484.7 512.1,500.7 516.1,488.7 526.8,470.0 533.4,486.0 541.5,504.7 552.1,495.4 558.8,483.4 562.8,492.7 566.8,486.7 570.0,486.7 575.3,489.4 580.7,496.0 584.0,509.4 587.3,504.0 591.3,502.7 605.4,490.7 612.7,502.7 616.7,498.7 627.4,505.4 632.7,517.4 635.4,517.4 638.0,526.7 642.0,530.7 652.7,530.7 658.0,537.4 663.4,525.4 668.7,526.7 680.7,536.1 684.7,534.7 688.7,537.4 692.7,532.7 700.0,532.9 707.4,528.0 712.4,532.1 714.8,539.5 717.3,556.0 728.8,570.0 732.9,565.9 736.2,570.0 739.5,562.6 743.7,574.1 754.4,583.2 757.7,579.9 768.4,578.3 779.1,582.4 782.4,568.4 793.9,565.9 807.1,573.3 810.4,578.3 812.8,585.7 820.0,604.0 832.0,601.4 837.3,593.4 841.3,580.0 854.7,590.7 859.4,594.0 866.0,584.0 870.0,598.0 880.0,594.1 884.1,586.9 890.3,606.5 895.4,612.6 909.9,586.9 912.9,608.5 916.0,605.4 920.1,612.6 929.4,613.7 934.6,618.8 938.2,617.8 941.8,630.1 945.9,630.1 956.2,613.7 961.3,626.0 967.5,631.2 970.6,625.0 981.9,630.1 989.1,611.6 993.2,625.0 996.3,628.1 1007.6,627.1 1010.7,638.4 1017.9,615.7 1022.0,618.8 1033.4,633.2 1036.5,635.3 1039.7,658.1 1047.1,651.3 1058.9,647.3 1061.7,678.4 1068.5,654.7 1072.5,656.9 1082.1,640.0 1085.2,627.2 1092.2,597.0 1097.7,581.7 1107.4,581.7 1111.6,597.7 1115.0,598.4 1119.2,585.9 1133.7,597.7 1137.2,614.3 1140.7,606.7 1144.1,609.4 1148.3,597.7 1158.7,596.3 1164.2,608.1 1168.4,617.8 1172.5,630.0 1175.3,638.3 1183.6,642.5 1187.8,639.7 1191.9,631.4 1195.4,634.2 1198.8,639.7 1209.9,666.0 1213.4,662.6 1216.8,670.2 1220.3,677.1 1224.5,691.6 1234.9,694.4 1238.3,686.8 1241.8,699.3 1245.2,684.0 1248.7,683.3 1260.5,692.3 1263.9,702.0 1268.1,703.4 1271.6,713.1 1275.0,718.7 1284.7,733.2 1288.9,721.4 1292.3,718.7 1295.8,729.7 1300.0,738.1 1311.0,736.0 1314.5,754.7 1321.4,749.1 1326.3,752.6"/>
<polyline stroke="#7A0000" stroke-width="3.9" stroke-linecap="round" points="76.7,545.8 82.7,545.4 87.3,540.0 96.7,536.7 100.5,565.4 103.9,567.1 108.2,562.0 111.5,547.6 121.7,557.0 125.6,564.6 129.4,578.2 133.1,590.9 136.5,590.9 147.2,583.2 151.4,589.2 154.8,577.3 162.4,553.6 172.6,553.6 176.0,561.2 180.2,558.7 183.3,560.3 187.0,555.3 198.0,547.6 204.7,502.7 208.7,512.7 213.4,508.7 220.7,512.0 226.1,515.4 233.4,530.0 236.8,498.7 248.8,493.4 251.4,494.0 256.1,482.7 262.1,494.0 272.8,496.7 278.1,488.7 288.8,483.4 299.5,476.0 304.8,487.4 312.8,503.4 320.0,513.4 325.3,523.4 329.3,534.1 332.0,544.7 338.0,550.1 349.3,558.1 353.4,550.1 357.4,546.7 361.4,538.1 373.4,532.7 378.7,528.7 386.0,534.7 389.4,536.7 396.7,548.7 400.7,554.7 404.0,540.1 408.0,554.1 425.4,552.7 429.4,547.4 433.1,536.1 436.7,544.7 440.1,542.7 454.7,552.1 458.7,543.4 462.1,533.4 466.1,538.1 476.1,542.1 479.4,534.1 483.4,538.7 486.8,522.0 490.8,507.4 502.1,494.7 506.1,502.0 512.1,511.4 516.1,500.7 526.8,486.7 533.4,498.0 541.5,521.4 552.1,512.7 558.8,502.7 562.8,510.0 566.8,506.0 570.0,506.7 575.3,510.7 580.7,517.4 584.0,530.7 587.3,521.4 591.3,518.1 603.4,510.7 606.0,504.7 610.0,513.4 612.7,516.1 616.7,505.4 627.4,512.0 632.7,529.4 635.4,535.0 638.0,538.3 642.0,542.3 652.7,542.3 658.0,547.7 663.4,533.7 668.7,535.0 680.7,542.3 682.7,547.7 685.4,540.3 688.7,544.3 692.7,539.7 700.0,539.5 704.1,538.7 708.2,533.8 712.4,537.1 714.8,546.1 717.3,562.6 728.8,577.4 732.9,573.3 736.2,575.0 739.5,563.4 743.7,577.4 751.1,584.0 754.1,589.7 757.8,583.0 762.1,603.0 768.8,585.7 779.4,585.7 783.4,592.4 784.8,584.0 787.3,576.6 793.9,571.7 807.1,577.4 810.4,584.0 812.8,587.0 820.0,605.4 832.0,600.7 834.0,602.7 837.3,594.7 841.3,581.3 854.7,592.0 859.4,600.0 862.7,594.0 866.0,593.4 870.0,606.0 880.0,605.4 884.1,596.2 888.2,618.8 891.3,613.7 895.4,625.0 909.9,596.2 912.9,620.9 916.0,612.6 920.1,625.0 929.4,628.1 934.6,635.3 938.7,628.1 942.6,647.9 946.0,649.0 952.2,642.3 956.2,635.3 961.3,647.9 967.5,656.9 970.3,653.5 982.2,659.8 986.1,645.6 988.9,640.0 992.9,656.9 996.3,660.9 1007.6,660.3 1010.9,669.9 1018.3,645.1 1022.2,651.3 1032.4,663.1 1036.3,660.9 1039.7,680.1 1042.5,676.7 1047.1,676.1 1058.9,669.9 1061.7,703.2 1068.5,681.2 1072.5,683.5 1086.6,658.6 1090.0,645.6 1090.8,636.9 1093.6,627.2 1097.7,610.8 1107.4,615.0 1111.6,630.2 1115.0,636.9 1118.5,626.1 1133.0,631.6 1137.2,647.3 1140.7,639.7 1144.8,636.9 1147.6,628.1 1158.7,630.0 1164.2,642.5 1168.4,652.2 1172.5,661.9 1183.6,666.7 1187.8,657.7 1191.9,652.2 1195.4,656.3 1198.8,661.9 1209.9,684.0 1213.4,681.9 1216.8,687.5 1220.3,696.5 1224.5,711.7 1234.9,711.7 1238.3,700.7 1241.8,709.7 1245.2,694.4 1260.5,702.7 1263.9,709.7 1268.1,709.7 1271.6,717.3 1275.0,717.3 1284.7,727.7 1288.9,717.3 1292.3,716.6 1295.8,727.0 1300.0,735.3 1311.0,740.1 1314.5,763.7 1321.4,760.2 1326.3,763.0"/>
</g>
<g stroke="#000" stroke-width="1.2" fill="none">
<line x1="186.0" y1="237.0" x2="187.7" y2="301.7" marker-end="url(#ah)"/>
<line x1="330.0" y1="299.0" x2="332.0" y2="363.0" marker-end="url(#ah)"/>
<line x1="485.0" y1="210.7" x2="510.0" y2="284.0" marker-end="url(#ah)"/>
<line x1="594.0" y1="192.3" x2="594.0" y2="276.7" marker-end="url(#ah)"/>
<line x1="755.0" y1="187.0" x2="630.0" y2="317.0" marker-end="url(#ah)"/>
<line x1="957.0" y1="183.0" x2="1100.0" y2="267.0" marker-end="url(#ah)"/>
<line x1="762.4" y1="318.0" x2="763.3" y2="384.5" marker-end="url(#ah)"/>
<line x1="902.0" y1="375.0" x2="873.0" y2="427.0" marker-end="url(#ah)"/>
<line x1="1191.3" y1="210.0" x2="1190.6" y2="270.0" marker-end="url(#ah)"/>
<line x1="1254.4" y1="309.6" x2="1254.0" y2="368.0" marker-end="url(#ah)"/>
<line x1="220.7" y1="725.0" x2="218.3" y2="632.0" marker-end="url(#ah)"/>
<line x1="638.3" y1="716.0" x2="670.7" y2="633.3" marker-end="url(#ah)"/>
<line x1="841.0" y1="742.7" x2="921.5" y2="695.5" marker-end="url(#ah)"/>
<line x1="1004.0" y1="806.0" x2="1005.4" y2="743.0" marker-end="url(#ah)"/>
<line x1="1234.6" y1="800.4" x2="1215.8" y2="748.5" marker-end="url(#ah)"/>
<line x1="320.8" y1="435.3" x2="299.2" y2="521.6" marker-end="url(#ah)"/>
</g>
<line x1="1507.5" y1="274.5" x2="1541.0" y2="274.5" stroke="#F9BD8D" stroke-width="4.0" stroke-linecap="round"/>
<line x1="1506.8" y1="322.5" x2="1541.8" y2="322.5" stroke="#5C5C94" stroke-width="2.5" stroke-linecap="round" stroke-dasharray="6.2 5.5"/>
<circle cx="1541.3" cy="322.5" r="1.25" fill="#5C5C94"/>
<line x1="1506.5" y1="370.5" x2="1542.0" y2="370.5" stroke="#2E2EFF" stroke-width="1.2" stroke-linecap="butt"/>
<line x1="1506.5" y1="418.5" x2="1542.0" y2="418.5" stroke="#FF2A2A" stroke-width="1.2" stroke-linecap="butt"/>
<line x1="1506.8" y1="466.5" x2="1541.8" y2="466.5" stroke="#404040" stroke-width="2.5" stroke-linecap="round" stroke-dasharray="6.2 5.5"/>
<circle cx="1541.3" cy="466.5" r="1.25" fill="#404040"/>
<line x1="1506.5" y1="515.5" x2="1542.0" y2="515.5" stroke="#33CCFF" stroke-width="1.2" stroke-linecap="butt"/>
<line x1="1509.4" y1="563.5" x2="1539.1" y2="563.5" stroke="#000000" stroke-width="7.8" stroke-linecap="round"/>
<line x1="1507.6" y1="611.5" x2="1540.9" y2="611.5" stroke="#2FC52F" stroke-width="4.2" stroke-linecap="round"/>
<line x1="1506.5" y1="659.5" x2="1542.0" y2="659.5" stroke="#FF00FF" stroke-width="1.2" stroke-linecap="butt"/>
<line x1="1507.7" y1="707.5" x2="1540.8" y2="707.5" stroke="#0000FF" stroke-width="4.3" stroke-linecap="round" stroke-dasharray="7.7 9"/>
<circle cx="1540.4" cy="707.5" r="2.15" fill="#0000FF"/>
<line x1="1506.5" y1="755.5" x2="1542.0" y2="755.5" stroke="#22AAFF" stroke-width="1.2" stroke-linecap="butt"/>
<line x1="1506.7" y1="803.5" x2="1541.8" y2="803.5" stroke="#FF0000" stroke-width="2.4" stroke-linecap="round" stroke-dasharray="6 5.6"/>
<circle cx="1541.4" cy="803.5" r="1.20" fill="#FF0000"/>
<line x1="1507.5" y1="851.5" x2="1541.0" y2="851.5" stroke="#858585" stroke-width="4.0" stroke-linecap="round"/>
<line x1="1507.5" y1="899.5" x2="1541.0" y2="899.5" stroke="#7A0000" stroke-width="4.0" stroke-linecap="round"/>
<defs>
<linearGradient id="lg1" x1="0" y1="0" x2="1" y2="1"><stop offset="0" stop-color="#5f828e"/><stop offset="0.5" stop-color="#a9bdc5"/><stop offset="1" stop-color="#6c8c98"/></linearGradient>
<linearGradient id="lg2" x1="0" y1="0" x2="1" y2="0"><stop offset="0" stop-color="#7b98a3"/><stop offset="0.45" stop-color="#b9cad0"/><stop offset="1" stop-color="#dfe7ea"/></linearGradient>
<linearGradient id="lg3" x1="0" y1="0" x2="0" y2="1"><stop offset="0" stop-color="#e4ebee"/><stop offset="1" stop-color="#aebfc6"/></linearGradient>
<linearGradient id="lg4" x1="0" y1="0" x2="1" y2="0"><stop offset="0" stop-color="#6a8a96"/><stop offset="0.5" stop-color="#8fa8b1"/><stop offset="1" stop-color="#c9d6db"/></linearGradient>
</defs>
<g fill="none">
<rect x="1899" y="17.3" width="3" height="7.5" fill="#7f9ba6"/>
<rect x="1899" y="95.5" width="3" height="7.5" fill="#7f9ba6"/>
<path d="M1884,37 Q1871,50 1879,70" stroke="#7896a1" stroke-width="6.5" stroke-linecap="round"/>
<ellipse cx="1901" cy="59.5" rx="25.5" ry="21" transform="rotate(40 1901 59.5)" stroke="#587c88" stroke-width="3.6"/>
<path d="M1890,37.5 Q1908,33 1921,52" stroke="#6d8d99" stroke-width="4.6"/>
<ellipse cx="1901.5" cy="61.8" rx="20.5" ry="10.3" fill="#8aa3ad"/>
<ellipse cx="1901.5" cy="60" rx="20.5" ry="10" fill="url(#lg3)"/>
<path d="M1889.5,54.5 L1914,66.5 M1890,66.5 L1914.5,54" stroke="#3f6672" stroke-width="1.3"/>
<ellipse cx="1902.3" cy="61.5" rx="32.3" ry="12.3" stroke="url(#lg2)" stroke-width="3.4"/>
<path d="M1870,61.5 A32.3,12.3 0 0 0 1934.6,61.5" stroke="#9db3bb" stroke-width="3.6"/>
<ellipse cx="1901" cy="60" rx="17.5" ry="36" stroke="url(#lg4)" stroke-width="3"/>
<path d="M1901,24 A17.5,36 0 0 0 1901,96" stroke="#7d9aa5" stroke-width="4.4"/>
<path d="M1903,24.5 A17,35.5 0 0 0 1903,95.5" stroke="#b4c6cd" stroke-width="1.6"/>
</g>
<g opacity="0.999"><text x="59" y="80.8" font-size="18.6" text-anchor="end" fill="#000">+70%</text>
<text x="59" y="215.2" font-size="18.6" text-anchor="end" fill="#000">+50%</text>
<text x="59" y="349.6" font-size="18.6" text-anchor="end" fill="#000">+30%</text>
<text x="59" y="484.1" font-size="18.6" text-anchor="end" fill="#000">+10%</text>
<text x="59" y="618.5" font-size="18.6" text-anchor="end" fill="#f00">-10%</text>
<text x="59" y="752.9" font-size="18.6" text-anchor="end" fill="#f00">-30%</text>
<text x="59" y="887.3" font-size="18.6" text-anchor="end" fill="#f00">-50%</text>
<text transform="translate(85.5,989) rotate(-90)" font-size="21.3" fill="#000" textLength="93" lengthAdjust="spacing">Dec-2014</text>
<text transform="translate(197.8,989) rotate(-90)" font-size="21.3" fill="#000" textLength="93" lengthAdjust="spacing">Jan-2015</text>
<text transform="translate(299.0,989) rotate(-90)" font-size="21.3" fill="#000" textLength="93" lengthAdjust="spacing">Feb-2015</text>
<text transform="translate(411.0,989) rotate(-90)" font-size="21.3" fill="#000" textLength="93" lengthAdjust="spacing">Mar-2015</text>
<text transform="translate(519.5,989) rotate(-90)" font-size="21.3" fill="#000" textLength="93" lengthAdjust="spacing">Apr-2015</text>
<text transform="translate(631.0,989) rotate(-90)" font-size="21.3" fill="#000" textLength="93" lengthAdjust="spacing">May-2015</text>
<text transform="translate(739.5,989) rotate(-90)" font-size="21.3" fill="#000" textLength="93" lengthAdjust="spacing">Jun-2015</text>
<text transform="translate(851.7,989) rotate(-90)" font-size="21.3" fill="#000" textLength="93" lengthAdjust="spacing">Jul-2015</text>
<text transform="translate(963.8,989) rotate(-90)" font-size="21.3" fill="#000" textLength="93" lengthAdjust="spacing">Aug-2015</text>
<text transform="translate(1072.1,989) rotate(-90)" font-size="21.3" fill="#000" textLength="93" lengthAdjust="spacing">Sep-2015</text>
<text transform="translate(1184.5,989) rotate(-90)" font-size="21.3" fill="#000" textLength="93" lengthAdjust="spacing">Oct-2015</text>
<text transform="translate(1292.3,989) rotate(-90)" font-size="21.3" fill="#000" textLength="93" lengthAdjust="spacing">Nov-2015</text>
<text transform="translate(1404.0,989) rotate(-90)" font-size="21.3" fill="#000" textLength="93" lengthAdjust="spacing">Dec-2015</text>
<text x="988" y="61.8" font-size="50" font-weight="bold" text-anchor="middle" fill="#000">Australian Shares by Sector - 2015</text>
<text x="1617" y="70" font-size="28" font-style="italic" text-anchor="middle" fill="#f00">== INTERIM ==</text>
<text x="1617" y="111" font-size="28" font-style="italic" text-anchor="middle" fill="#f00" textLength="144" lengthAdjust="spacingAndGlyphs">- to 11 Dec</text>
<text x="174" y="154.6" font-size="21.6" letter-spacing="0.2" text-anchor="middle" fill="#000">3 Feb -</text>
<text x="174" y="180.1" font-size="21.6" letter-spacing="0.2" text-anchor="middle" fill="#000">RBAs 9th</text>
<text x="174" y="205.6" font-size="21.6" letter-spacing="0.2" text-anchor="middle" fill="#000">rate cut to</text>
<text x="174" y="231.3" font-size="21.6" letter-spacing="0.2" text-anchor="middle" fill="#000">2.25%</text>
<text x="330" y="208.8" font-size="21.6" letter-spacing="0.2" text-anchor="middle" fill="#000">18 Mar - Yellen</text>
<text x="330" y="234.4" font-size="21.6" letter-spacing="0.2" text-anchor="middle" fill="#000">switches from</text>
<text x="330" y="260.0" font-size="21.6" letter-spacing="0.2" text-anchor="middle" fill="#000">&quot;patient&quot; to</text>
<text x="330" y="285.6" font-size="21.6" letter-spacing="0.2" text-anchor="middle" fill="#000">&quot;not impatient&quot;</text>
<text x="466" y="122.3" font-size="21.6" letter-spacing="0.2" text-anchor="middle" fill="#000">5 May -</text>
<text x="466" y="147.7" font-size="21.6" letter-spacing="0.2" text-anchor="middle" fill="#000">RBA 10th</text>
<text x="466" y="173.3" font-size="21.6" letter-spacing="0.2" text-anchor="middle" fill="#000">rate cut to</text>
<text x="466" y="199.3" font-size="21.6" letter-spacing="0.2" text-anchor="middle" fill="#000">2.0%</text>
<text x="617" y="120.5" font-size="21.6" letter-spacing="0.2" text-anchor="middle" fill="#000">12 May - federal</text>
<text x="617" y="145.5" font-size="21.6" letter-spacing="0.2" text-anchor="middle" fill="#000">budget deficit</text>
<text x="617" y="171.5" font-size="21.6" letter-spacing="0.2" text-anchor="middle" fill="#000">blow-out</text>
<text x="857" y="146.5" font-size="21.6" letter-spacing="0.2" text-anchor="middle" fill="#000">Gold stocks do well with</text>
<text x="857" y="172.5" font-size="21.6" letter-spacing="0.2" text-anchor="middle" fill="#000">Gold price holding up +</text>
<text x="857" y="198.5" font-size="21.6" letter-spacing="0.2" text-anchor="middle" fill="#000">AUD decline</text>
<text x="762" y="257.5" font-size="21.6" letter-spacing="0.2" text-anchor="middle" fill="#000">13 July -</text>
<text x="762" y="282.5" font-size="21.6" letter-spacing="0.2" text-anchor="middle" fill="#000">Greece 3</text>
<text x="762" y="308.5" font-size="21.6" letter-spacing="0.2" text-anchor="middle" fill="#000">bailout deal</text>
<text x="938" y="279.7" font-size="21.6" letter-spacing="0.2" text-anchor="middle" fill="#000">7 Aug - Bank sell-</text>
<text x="938" y="305.1" font-size="21.6" letter-spacing="0.2" text-anchor="middle" fill="#000">off starts after</text>
<text x="938" y="330.7" font-size="21.6" letter-spacing="0.2" text-anchor="middle" fill="#000">ANZ emergency</text>
<text x="938" y="356.0" font-size="21.6" letter-spacing="0.2" text-anchor="middle" fill="#000">capital raising</text>
<text x="1181" y="141.5" font-size="21.6" letter-spacing="0.2" text-anchor="middle" fill="#000">6 Nov - RBA</text>
<text x="1181" y="167.5" font-size="21.6" letter-spacing="0.2" text-anchor="middle" fill="#000">lowers growth</text>
<text x="1181" y="193.5" font-size="21.6" letter-spacing="0.2" text-anchor="middle" fill="#000">outlook</text>
<text x="1265" y="246.2" font-size="21.6" letter-spacing="0.2" text-anchor="middle" fill="#000">19 Nov -</text>
<text x="1265" y="272.3" font-size="21.6" letter-spacing="0.2" text-anchor="middle" fill="#000">BHP flags</text>
<text x="1265" y="298.5" font-size="21.6" letter-spacing="0.2" text-anchor="middle" fill="#000">div cut</text>
<text x="250" y="760.5" font-size="21.6" letter-spacing="0.2" text-anchor="middle" fill="#000">9 Feb - Abbot</text>
<text x="250" y="786.5" font-size="21.6" letter-spacing="0.2" text-anchor="middle" fill="#000">survives leadership</text>
<text x="250" y="811.5" font-size="21.6" letter-spacing="0.2" text-anchor="middle" fill="#000">challenge from</text>
<text x="250" y="837.5" font-size="21.6" letter-spacing="0.2" text-anchor="middle" fill="#000">Turnbull</text>
<text x="586" y="713.5" font-size="21.6" letter-spacing="0.2" text-anchor="middle" fill="#000">18 Jun -</text>
<text x="586" y="739.5" font-size="21.6" letter-spacing="0.2" text-anchor="middle" fill="#000">Woolworths</text>
<text x="586" y="765.5" font-size="21.6" letter-spacing="0.2" text-anchor="middle" fill="#000">CEO ousted</text>
<text x="760" y="738.5" font-size="21.6" letter-spacing="0.2" text-anchor="middle" fill="#000">Energy stocks</text>
<text x="760" y="764.5" font-size="21.6" letter-spacing="0.2" text-anchor="middle" fill="#000">hit by oil/gas</text>
<text x="760" y="790.5" font-size="21.6" letter-spacing="0.2" text-anchor="middle" fill="#000">price collapse +</text>
<text x="760" y="815.5" font-size="21.6" letter-spacing="0.2" text-anchor="middle" fill="#000">high debt</text>
<text x="1010" y="832.5" font-size="21.6" letter-spacing="0.2" text-anchor="middle" fill="#000">14 Sep - Turnbull</text>
<text x="1010" y="858.5" font-size="21.6" letter-spacing="0.2" text-anchor="middle" fill="#000">rolls Abbott as PM</text>
<text x="1284" y="828.5" font-size="21.6" letter-spacing="0.2" text-anchor="middle" fill="#000">9 Nov - Santos</text>
<text x="1284" y="853.8" font-size="21.6" letter-spacing="0.2" text-anchor="middle" fill="#000">rescued by</text>
<text x="1284" y="879.5" font-size="21.6" letter-spacing="0.2" text-anchor="middle" fill="#000">Chinese</text>
<text x="469" y="336.5" font-size="18.9" font-weight="bold" letter-spacing="0.2" text-anchor="middle" fill="#000">Gold</text>
<text x="664" y="426.5" font-size="18.9" font-weight="bold" letter-spacing="0.2" text-anchor="middle" fill="#000">Utilities</text>
<text x="1126" y="425.5" font-size="18.9" font-weight="bold" letter-spacing="0.2" text-anchor="middle" fill="#000">Utilities</text>
<text x="1353" y="400.5" font-size="18.9" font-weight="bold" letter-spacing="0.2" text-anchor="middle" fill="#000">Gold</text>
<text x="1371" y="520.5" font-size="18.9" font-weight="bold" letter-spacing="0.2" text-anchor="middle" fill="#000">Cons Discretionary</text>
<text x="403" y="627.5" font-size="18.9" font-weight="bold" letter-spacing="0.2" text-anchor="middle" fill="#000">Energy</text>
<text x="643" y="624.5" font-size="18.9" font-weight="bold" letter-spacing="0.2" text-anchor="middle" fill="#000">Cons Staples</text>
<text x="953" y="738.5" font-size="18.9" font-weight="bold" letter-spacing="0.2" text-anchor="middle" fill="#000">Energy</text>
<text x="1358" y="673.5" font-size="18.9" font-weight="bold" letter-spacing="0.2" text-anchor="middle" fill="#000">Cons Staples</text>
<text x="1368" y="736.5" font-size="18.9" font-weight="bold" letter-spacing="0.2" text-anchor="middle" fill="#000">Materials</text>
<text x="1486" y="200" font-size="21.6" font-weight="bold" letter-spacing="0.2" fill="#000">Price change per sector for year:</text>
<text x="1546" y="281.5" font-size="21.6" letter-spacing="0.2" fill="#000">Gold Miners&#160; =&#160; +22%</text>
<text x="1546" y="329.5" font-size="21.6" letter-spacing="0.2" fill="#000">Utilities&#160; =&#160; +13%</text>
<text x="1546" y="377.5" font-size="21.6" letter-spacing="0.2" fill="#000">Industrials&#160; =&#160; +9%</text>
<text x="1546" y="425.5" font-size="21.6" letter-spacing="0.2" fill="#000">Healthcare&#160; =&#160; +10%</text>
<text x="1546" y="473.5" font-size="21.6" letter-spacing="0.2" fill="#000">Consumer Discretionary&#160; =&#160; +6%</text>
<text x="1546" y="522.5" font-size="21.6" letter-spacing="0.2" fill="#000">Info Tech&#160; =&#160; -0%</text>
<text x="1546" y="570.5" font-size="21.6" letter-spacing="0.2" fill="#000">Aust shares (All Ords) -6%</text>
<text x="1546" y="618.5" font-size="21.6" letter-spacing="0.2" fill="#000">Financials ex-PT&#160; =&#160; -6%</text>
<text x="1546" y="666.5" font-size="21.6" letter-spacing="0.2" fill="#000">Telecoms&#160; =&#160; -9%</text>
<text x="1546" y="714.5" font-size="21.6" letter-spacing="0.2" fill="#000">Consumer Staples&#160; =&#160; -11%</text>
<text x="1546" y="762.5" font-size="21.6" letter-spacing="0.2" fill="#000">Materials&#160; =&#160; -23%</text>
<text x="1546" y="810.5" font-size="21.6" letter-spacing="0.2" fill="#000">Energy&#160; =&#160; -35%</text>
<text x="1546" y="858.5" font-size="21.6" letter-spacing="0.2" fill="#000">Metals &amp; Mining&#160; =&#160; -31%</text>
<text x="1546" y="906.5" font-size="21.6" letter-spacing="0.2" fill="#000">Resources&#160; =&#160; -32%</text>
<text x="1887" y="1000" font-size="21.6" letter-spacing="0.2" text-anchor="end" fill="#000">A Owen - Philo Capital</text></g>
<rect x="0" y="0" width="1949" height="1" fill="#000"/><rect x="0" y="0" width="1" height="1020" fill="#000"/><rect x="1947" y="0" width="2" height="1020" fill="#000"/><rect x="0" y="1018" width="1949" height="2" fill="#000"/>
</svg></body></html>
